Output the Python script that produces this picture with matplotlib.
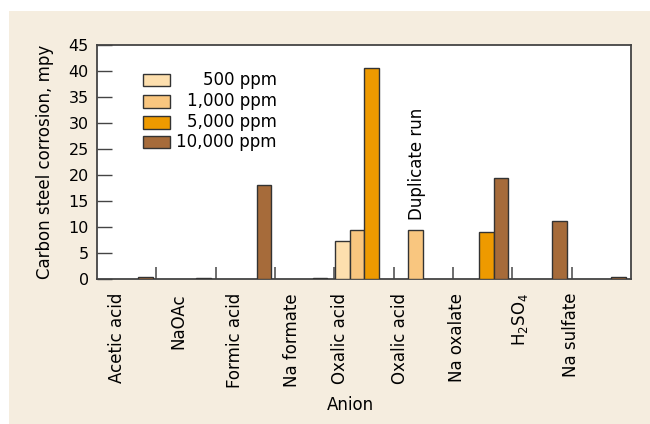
import matplotlib
matplotlib.use("Agg")
import matplotlib.pyplot as plt
from matplotlib.patches import Rectangle
import numpy as np

plt.rcParams['font.family'] = ['DejaVu Sans']

categories = ["Acetic acid", "NaOAc", "Formic acid", "Na formate", "Oxalic acid",
              "Oxalic acid", "Na oxalate", "H$_2$SO$_4$", "Na sulfate"]
series_names = ["500 ppm", "1,000 ppm", "5,000 ppm", "10,000 ppm"]
ppm_500 = [0, 0, 0, 0, 7.4, 0, 0, 0, 0]
ppm_1000 = [0, 0, 0, 0, 9.5, 9.4, 0, 0, 0]
ppm_5000 = [0, 0, 0, 0, 40.5, 0, 9.0, 0, 0]
ppm_10000 = [0.4, 0.2, 18.0, 0.2, 0, 0, 19.4, 11.2, 0.45]
yticks = [0, 5, 10, 15, 20, 25, 30, 35, 40, 45]

colors = ["#FDDFAE", "#F9C67F", "#EE9A00", "#A66B3A"]
bg = "#F5EDDF"

fig = plt.figure(figsize=(6.5, 4.24), dpi=100)
fig.patch.set_facecolor("white")
fig.patches.append(Rectangle((9 / 650, 0), 1, 1 - 11 / 424, transform=fig.transFigure,
                             facecolor=bg, edgecolor="none", zorder=-10))

ax = fig.add_axes([97 / 650, 1 - 279 / 424, 534 / 650, 234 / 424])
ax.set_facecolor("white")

n = len(categories)
w = 0.245
shift = [-0.04, -0.066, -0.043, -0.099, 0.015, 0.0, -0.046, -0.066, -0.071]
series = [ppm_500, ppm_1000, ppm_5000, ppm_10000]
for k, vals in enumerate(series):
    xs = np.arange(n) + np.array(shift) + k * w
    vals = np.array(vals, dtype=float)
    mask = vals > 0
    ax.bar(xs[mask], vals[mask], width=w, align="edge", color=colors[k],
           edgecolor="#333333", linewidth=1.0, zorder=3)

# group separators
ax.vlines(np.arange(1, n), 0, 2.3, color="#555555", linewidth=1.2, zorder=2)

ax.set_xlim(0, n)
ax.set_ylim(0, 45)
ax.set_yticks(yticks)
ax.tick_params(axis="y", direction="in", length=11, width=1, color="#444444",
               labelsize=11.5, pad=6)
label_pos = [0.337, 1.365, 2.326, 3.287, 4.096, 5.107, 6.067, 7.13, 7.99]
ax.set_xticks(label_pos)
ax.set_xticklabels(categories, rotation=90, fontsize=12, va="top", ha="center")
ax.tick_params(axis="x", length=0, pad=10)
for s in ax.spines.values():
    s.set_color("#444444")
    s.set_linewidth(1.3)

fig.text(350 / 650, 1 - 405 / 424, "Anion", ha="center", va="center", fontsize=12)
fig.text(45 / 650, 1 - 162 / 424, "Carbon steel corrosion, mpy", rotation=90,
         ha="center", va="center", fontsize=12)

ax.text(5.39, 11.3, "Duplicate run", rotation=90, ha="center", va="bottom", fontsize=12)

# legend (manual, right-aligned labels)
ys = [0.850, 0.759, 0.669, 0.585]
for k, name in enumerate(series_names):
    ax.add_patch(Rectangle((0.0867, ys[k] - 0.0265), 0.05, 0.053, transform=ax.transAxes,
                           facecolor=colors[k], edgecolor="#333333", linewidth=1.0, zorder=4))
    ax.text(0.3365, ys[k], name, transform=ax.transAxes, ha="right", va="center",
            fontsize=12)

fig.savefig("out.png", dpi=100, facecolor=fig.get_facecolor())
